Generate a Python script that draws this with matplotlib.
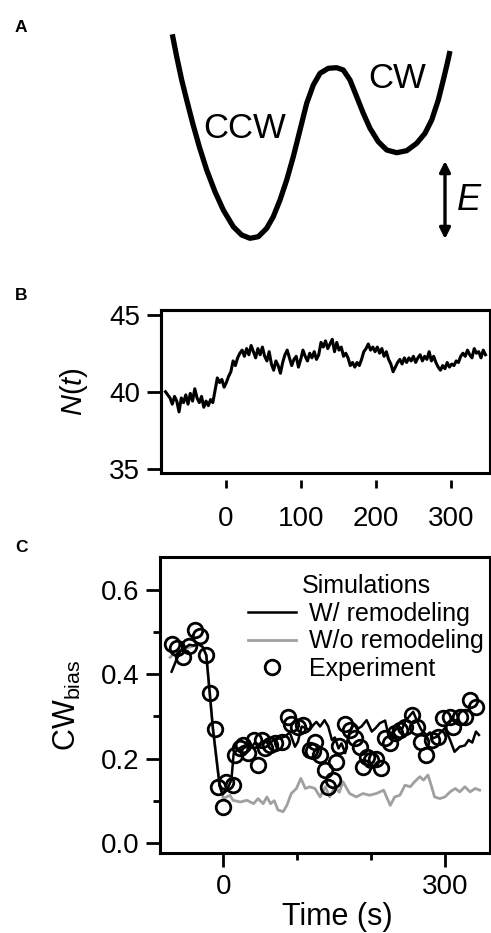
import matplotlib
matplotlib.use('Agg')
import matplotlib.pyplot as plt
import matplotlib.patches as patches
from matplotlib.ticker import MultipleLocator, FixedLocator
import numpy as np

plt.rcParams['font.family'] = ['Liberation Sans', 'DejaVu Sans']
plt.rcParams['mathtext.fontset'] = 'custom'
plt.rcParams['mathtext.rm'] = 'Liberation Sans'
plt.rcParams['mathtext.it'] = 'Liberation Sans:italic'

# --- Panel A: energy landscape sketch (pixel space of the panel) ---
landscape_x = [172.3, 176.7, 181.7, 186.7, 192.7, 199.3, 206.7, 215.0, 223.3, 233.3,
               241.7, 250.0, 258.3, 266.7, 273.3, 280.0, 286.7, 293.3, 300.0, 306.7,
               313.3, 320.0, 328.3, 336.7, 343.3, 350.0, 356.7, 363.3, 370.0, 378.3,
               386.7, 396.7, 406.7, 416.7, 425.0, 431.7, 438.3, 443.3, 447.3, 450.0]
landscape_y = [34.3, 56.7, 80.0, 100.0, 123.3, 146.7, 170.0, 191.7, 210.0, 226.7,
               235.0, 238.3, 236.7, 228.3, 216.7, 200.0, 180.0, 156.7, 130.0, 103.3,
               85.0, 73.3, 68.3, 67.7, 70.0, 80.0, 96.7, 113.3, 128.3, 141.7,
               150.0, 152.7, 150.7, 143.3, 133.3, 120.0, 100.0, 80.0, 63.3, 51.0]

# --- Panel B: N(t) trace, sampled every 3 s from -80 s ---
n_time = np.arange(-80, 347, 3)
n_motors = [40.0, 39.8, 39.6, 39.2, 39.7, 39.4, 38.7, 39.6, 39.3, 39.8,
            39.2, 39.9, 39.4, 40.2, 39.6, 39.3, 39.7, 39.0, 39.4, 39.1,
            39.5, 39.3, 40.1, 40.9, 40.6, 40.8, 40.3, 40.6, 41.0, 41.3,
            42.0, 41.7, 42.2, 42.5, 42.7, 42.3, 42.8, 42.4, 43.0, 42.6,
            42.2, 42.8, 42.4, 42.9, 42.3, 42.0, 42.6, 41.8, 41.4, 42.0,
            41.7, 41.2, 41.9, 42.4, 42.7, 42.2, 41.7, 42.1, 42.3, 41.6,
            42.1, 42.7, 42.3, 42.0, 42.5, 42.2, 42.6, 42.1, 42.4, 43.2,
            42.9, 43.3, 42.8, 43.1, 43.4, 42.6, 43.2, 42.7, 42.9, 42.3,
            42.5, 42.2, 41.7, 41.9, 41.6, 41.9, 41.7, 42.1, 42.6, 42.8,
            43.1, 42.7, 42.9, 42.6, 42.9, 42.5, 42.8, 42.3, 42.6, 42.1,
            41.8, 41.3, 41.6, 41.9, 42.1, 41.8, 42.2, 41.9, 42.2, 42.0,
            42.3, 41.9, 42.2, 42.4, 42.0, 42.3, 42.1, 42.6, 42.0, 42.3,
            41.9, 41.6, 41.4, 41.7, 41.5, 41.9, 41.6, 41.8, 41.7, 42.0,
            41.9, 42.3, 42.5, 42.3, 42.7, 42.4, 42.2, 42.8, 42.5, 42.6,
            42.2, 42.7, 42.4]

# --- Panel C: CW bias ---
sim_time = [-70, -64, -58, -52, -46, -40, -34, -28, -23, -14, -5, -1, 5, 11, 14,
            19, 25, 31, 37, 43, 49, 55, 62, 69, 76, 83, 90, 97, 101, 106,
            112, 117, 122, 126, 131, 137, 142, 147, 151, 156, 160, 165, 169, 176, 181,
            187, 194, 201, 206, 212, 219, 223, 230, 237, 242, 246, 253, 257, 262, 268,
            275, 280, 284, 289, 293, 300, 307, 313, 320, 327, 332, 337, 342, 346]
sim_remodel = [0.406, 0.432, 0.455, 0.462, 0.470, 0.468, 0.472, 0.465, 0.445, 0.270,
               0.135, 0.115, 0.125, 0.150, 0.212, 0.220, 0.228, 0.232, 0.225, 0.238,
               0.232, 0.240, 0.236, 0.244, 0.248, 0.252, 0.262, 0.228, 0.240, 0.276,
               0.272, 0.268, 0.280, 0.287, 0.276, 0.291, 0.276, 0.244, 0.250, 0.224,
               0.236, 0.213, 0.252, 0.284, 0.270, 0.276, 0.291, 0.264, 0.272, 0.284,
               0.290, 0.260, 0.262, 0.276, 0.270, 0.287, 0.303, 0.311, 0.290, 0.268,
               0.256, 0.262, 0.248, 0.252, 0.260, 0.272, 0.244, 0.216, 0.228, 0.231,
               0.244, 0.238, 0.264, 0.256]

sim0_time = [-72, -65, -58, -50, -42, -34, -28, -23, -14, -5,
             0, 9, 13, 23, 32, 41, 47, 54, 59, 64,
             69, 74, 81, 86, 92, 99, 105, 111, 117, 124,
             131, 138, 144, 151, 157, 162, 171, 180, 189, 198,
             207, 217, 226, 232, 239, 246, 253, 259, 266, 271,
             277, 282, 286, 293, 300, 307, 314, 320, 327, 334,
             341, 347]
sim_no_remodel = [0.440, 0.452, 0.458, 0.462, 0.466, 0.470, 0.465, 0.445, 0.270, 0.140,
                  0.105, 0.113, 0.101, 0.097, 0.101, 0.093, 0.105, 0.093, 0.109, 0.093,
                  0.100, 0.078, 0.074, 0.089, 0.117, 0.129, 0.153, 0.129, 0.133, 0.129,
                  0.109, 0.133, 0.109, 0.133, 0.120, 0.145, 0.117, 0.109, 0.117, 0.113,
                  0.117, 0.125, 0.089, 0.109, 0.113, 0.137, 0.133, 0.145, 0.157, 0.149,
                  0.161, 0.133, 0.109, 0.105, 0.109, 0.121, 0.129, 0.121, 0.133, 0.121,
                  0.129, 0.125]

exp_time = [-70, -63, -55, -47, -38, -32, -24, -18, -11, -7, -1, 4, 13, 16, 23,
            27, 34, 41, 47, 53, 56, 63, 70, 79, 88, 92, 101, 108, 117, 121,
            124, 131, 138, 142, 149, 153, 156, 165, 171, 178, 185, 189, 194, 200, 207,
            214, 219, 226, 232, 239, 246, 255, 262, 268, 275, 282, 291, 298, 307, 311,
            320, 327, 334, 342]
exp_bias = [0.471, 0.462, 0.442, 0.467, 0.505, 0.491, 0.446, 0.355, 0.269, 0.133,
            0.086, 0.145, 0.137, 0.208, 0.224, 0.232, 0.212, 0.244, 0.184, 0.244,
            0.224, 0.232, 0.236, 0.240, 0.299, 0.283, 0.276, 0.280, 0.220, 0.218,
            0.240, 0.208, 0.173, 0.133, 0.149, 0.192, 0.230, 0.283, 0.268, 0.248,
            0.228, 0.180, 0.204, 0.196, 0.200, 0.177, 0.248, 0.236, 0.260, 0.268,
            0.276, 0.303, 0.276, 0.240, 0.208, 0.244, 0.252, 0.295, 0.299, 0.276,
            0.299, 0.299, 0.340, 0.323]

W, H = 491, 933
fig = plt.figure(figsize=(W / 100, H / 100), dpi=100)

def frac(left, top, right, bottom):
    return [left / W, 1 - bottom / H, (right - left) / W, (bottom - top) / H]

TICK = 20

# panel A
axA = fig.add_axes([0, 1 - 260 / H, 1, 260 / H])
axA.set_xlim(0, W)
axA.set_ylim(260, 0)
axA.axis('off')
axA.plot(landscape_x, landscape_y, color='black', lw=3.8,
         solid_capstyle='butt', solid_joinstyle='round')
axA.text(245, 128, 'CCW', fontsize=25, ha='center', va='center')
axA.text(397, 78, 'CW', fontsize=25, ha='center', va='center')
axA.text(469, 201, 'E', fontsize=26, style='italic', ha='center', va='center')
axA.annotate('', xy=(445, 161), xytext=(445, 239),
             arrowprops=dict(arrowstyle='<|-|>', lw=2.4, color='black',
                             mutation_scale=16, shrinkA=0, shrinkB=0))

# panel B
axB = fig.add_axes(frac(161, 310, 490, 473))
axB.plot(n_time, n_motors, color='black', lw=2.2)
axB.set_xlim(-86, 352)
axB.set_ylim(34.74, 45.3)
axB.xaxis.set_major_locator(FixedLocator([0, 100, 200, 300]))
axB.yaxis.set_major_locator(FixedLocator([35, 40, 45]))
axB.spines['bottom'].set_position(('outward', 5))
axB.spines['bottom'].set_color('none')
for s in ['left', 'top', 'right']:
    axB.spines[s].set_linewidth(2.2)
axB.add_patch(patches.Rectangle((0, 0), 1, 1, transform=axB.transAxes, fill=False,
                                lw=2.2, clip_on=False, zorder=5))
axB.tick_params(axis='x', direction='out', length=6, width=2, labelsize=TICK, pad=13)
axB.tick_params(axis='y', direction='out', length=10, width=2, labelsize=TICK, pad=5)
axB.set_ylabel('$N(t)$', fontsize=21)
axB.yaxis.set_label_coords(-0.216, 0.5)

# panel C
axC = fig.add_axes(frac(160, 557, 490, 853))
axC.plot(sim0_time, sim_no_remodel, color='#a0a0a0', lw=2.0, label='W/o remodeling')
axC.plot(sim_time, sim_remodel, color='black', lw=1.8, label='W/ remodeling')
axC.plot(exp_time, exp_bias, 'o', mfc='none', mec='black', ms=10.5, mew=2.0,
         label='Experiment')
axC.set_xlim(-85.7, 361)
axC.set_ylim(-0.024, 0.678)
axC.xaxis.set_major_locator(FixedLocator([0, 300]))
axC.xaxis.set_minor_locator(FixedLocator([100, 200]))
axC.yaxis.set_major_locator(MultipleLocator(0.2))
axC.yaxis.set_minor_locator(MultipleLocator(0.1))
axC.yaxis.set_major_formatter(lambda v, p: f'{v:.1f}')
for s in axC.spines.values():
    s.set_linewidth(2.2)
axC.tick_params(which='major', direction='out', length=10, width=2, labelsize=TICK, pad=5)
axC.tick_params(which='minor', direction='out', length=5, width=2)
axC.set_ylabel('CW$_{\\mathrm{bias}}$', fontsize=22)
axC.yaxis.set_label_coords(-0.233, 0.5)
axC.set_xlabel('Time (s)', fontsize=22)
axC.xaxis.set_label_coords(0.536, -0.165)

h, l = axC.get_legend_handles_labels()
order = [1, 0, 2]
leg = axC.legend([h[i] for i in order], [l[i] for i in order], title='Simulations',
                 loc='upper right', bbox_to_anchor=(1.02, 0.985), frameon=False,
                 fontsize=18, title_fontsize=18, borderpad=0, labelspacing=0.15,
                 handlelength=1.9, handletextpad=0.55)

# panel letters
for letter, y in [('A', 28), ('B', 295), ('C', 547)]:
    fig.text(21 / W, 1 - y / H, letter, fontsize=12.5, fontweight='bold',
             ha='center', va='center')

fig.savefig('out.png', dpi=100)
